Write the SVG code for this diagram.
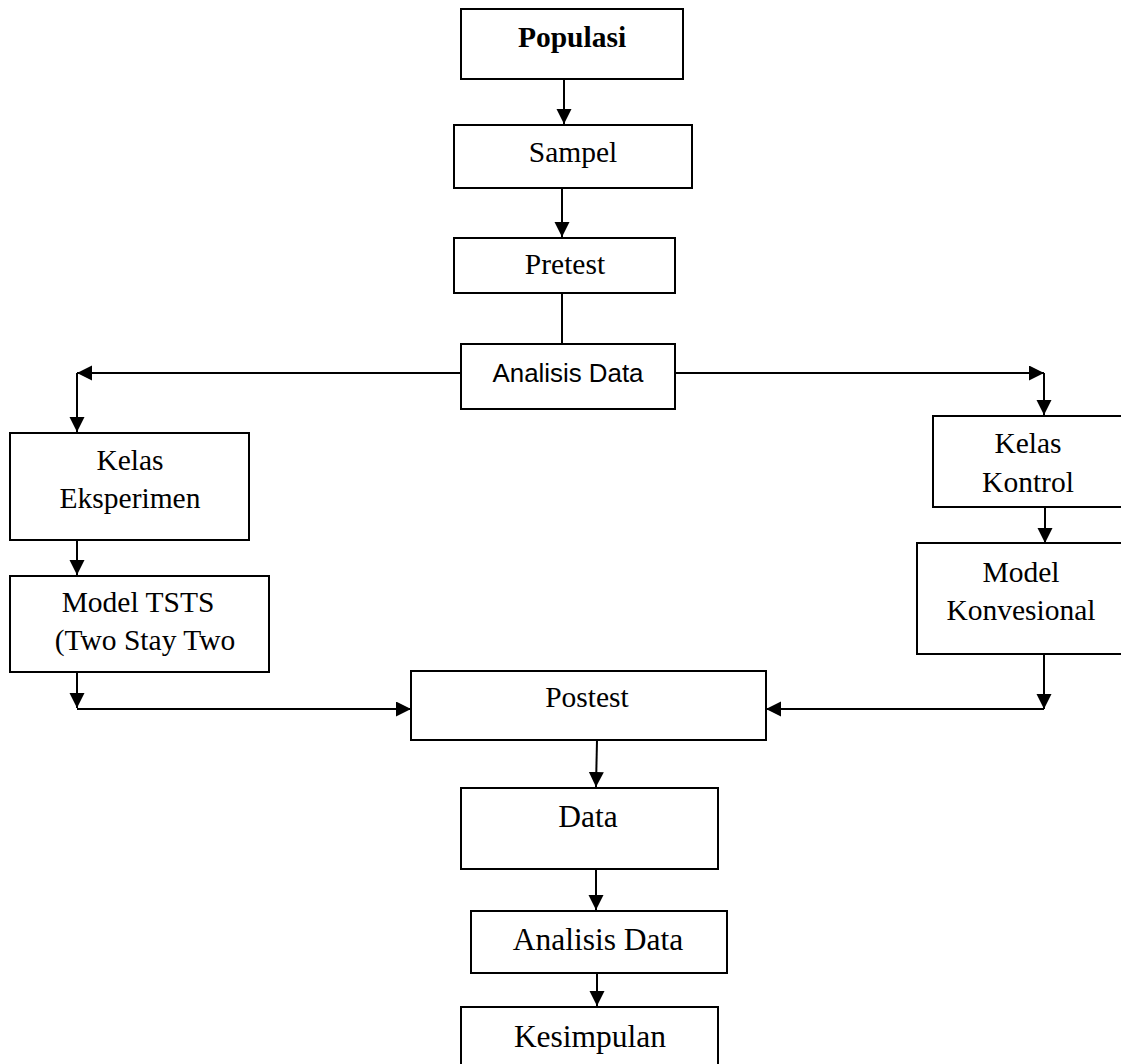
<svg xmlns="http://www.w3.org/2000/svg" width="1121" height="1064" viewBox="0 0 1121 1064">
<defs>
<style>
.box{fill:#fff;stroke:#000;stroke-width:2}
.t{font-family:"Liberation Serif","Times New Roman",serif;font-size:29.5px;fill:#000;text-anchor:middle}
.tb{font-weight:bold}
.tl{font-size:31.5px}
.s{font-family:"Liberation Sans",Arial,sans-serif;font-size:26px;fill:#000;text-anchor:middle}
.c{fill:none;stroke:#000;stroke-width:2}
</style>
<marker id="ah" markerUnits="userSpaceOnUse" markerWidth="16" markerHeight="16" refX="15" refY="7.5" orient="auto">
<path d="M0,0 L15,7.5 L0,15 z" fill="#000"/>
</marker>
</defs>
<rect width="1121" height="1064" fill="#fff"/>
<g id="connectors">
<path class="c" d="M564,79 V124" marker-end="url(#ah)"/>
<path class="c" d="M562,188 V237" marker-end="url(#ah)"/>
<path class="c" d="M562,293 V344"/>
<path class="c" d="M461,373 H77" marker-end="url(#ah)"/>
<path class="c" d="M77,373 V432" marker-end="url(#ah)"/>
<path class="c" d="M675,373 H1044" marker-end="url(#ah)"/>
<path class="c" d="M1044,373 V415" marker-end="url(#ah)"/>
<path class="c" d="M77,540 V575" marker-end="url(#ah)"/>
<path class="c" d="M1045,507 V543" marker-end="url(#ah)"/>
<path class="c" d="M77,672 V708" marker-end="url(#ah)"/>
<path class="c" d="M77,709 H411" marker-end="url(#ah)"/>
<path class="c" d="M1044,654 V709" marker-end="url(#ah)"/>
<path class="c" d="M1044,709 H766" marker-end="url(#ah)"/>
<path class="c" d="M597,740 L596,787" marker-end="url(#ah)"/>
<path class="c" d="M596,869 V910" marker-end="url(#ah)"/>
<path class="c" d="M597,973 V1006" marker-end="url(#ah)"/>
</g>
<g id="populasi"><rect class="box" x="461" y="9" width="222" height="70"/><text class="t tb" x="572" y="47">Populasi</text></g>
<g id="sampel"><rect class="box" x="454" y="125" width="238" height="63"/><text class="t" x="573" y="162">Sampel</text></g>
<g id="pretest"><rect class="box" x="454" y="238" width="221" height="55"/><text class="t" x="565" y="274">Pretest</text></g>
<g id="analisis1"><rect class="box" x="461" y="344" width="214" height="65"/><text class="s" x="568" y="382" textLength="151" lengthAdjust="spacingAndGlyphs">Analisis Data</text></g>
<g id="kelas-eksperimen"><rect class="box" x="10" y="433" width="239" height="107"/><text class="t" x="130" y="470">Kelas</text><text class="t" x="130" y="508">Eksperimen</text></g>
<g id="model-tsts"><rect class="box" x="10" y="576" width="259" height="96"/><text class="t" x="138" y="612">Model TSTS</text><text class="t" x="145" y="650">(Two Stay Two</text></g>
<g id="kelas-kontrol"><rect class="box" x="933" y="416" width="200" height="91"/><text class="t" x="1028" y="453">Kelas</text><text class="t" x="1028" y="492">Kontrol</text></g>
<g id="model-konvesional"><rect class="box" x="917" y="543" width="216" height="111"/><text class="t" x="1021" y="582">Model</text><text class="t" x="1021" y="620">Konvesional</text></g>
<g id="postest"><rect class="box" x="411" y="671" width="355" height="69"/><text class="t" x="587" y="707">Postest</text></g>
<g id="data"><rect class="box" x="461" y="788" width="257" height="81"/><text class="t tl" x="588" y="827">Data</text></g>
<g id="analisis2"><rect class="box" x="471" y="911" width="256" height="62"/><text class="t tl" x="598" y="950">Analisis Data</text></g>
<g id="kesimpulan"><rect class="box" x="461" y="1007" width="257" height="70"/><text class="t tl" x="590" y="1047">Kesimpulan</text></g>
</svg>
